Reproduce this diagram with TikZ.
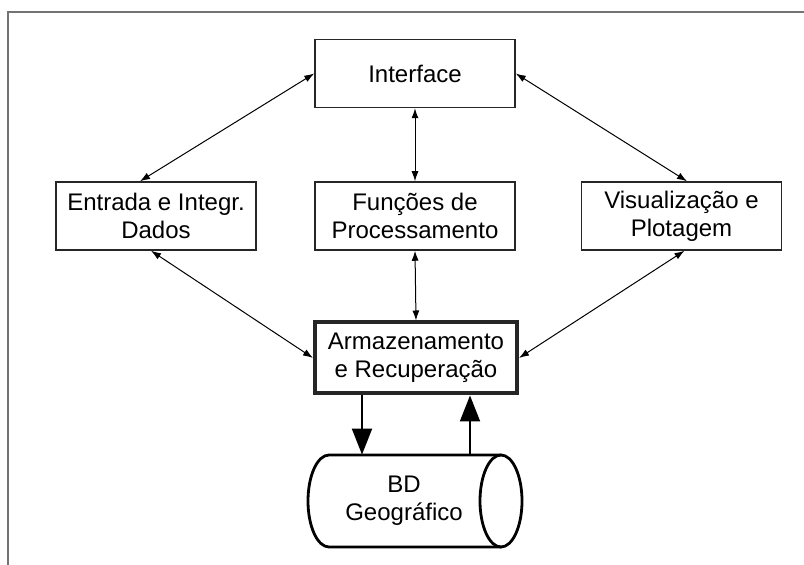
\documentclass[tikz,border=0pt]{standalone}
\usepackage{fontspec}
\setmainfont{Liberation Sans}
\usetikzlibrary{arrows.meta}
\tikzset{
  caixa/.style={draw=black!85,line width=0.75pt,minimum width=100pt,minimum height=34pt,
    align=center,inner sep=2pt,font=\fontsize{12}{14}\selectfont},
  caixagrossa/.style={caixa,line width=2pt,minimum width=101pt,minimum height=35.5pt},
  rotulo/.style={minimum height=46pt,align=center,inner sep=0pt,font=\fontsize{12}{14}\selectfont},
  fino/.style={{Latex[length=5pt,width=3.5pt]}-{Latex[length=5pt,width=3.5pt]},line width=0.5pt},
  grosso/.style={-{Triangle[length=13pt,width=10pt]},line width=1pt}
}
\begin{document}
\begin{tikzpicture}[x=0.5pt,y=-0.5pt]
  \pgfmathsetmacro{\desvio}{27}
  \pgfmathsetmacro{\cilesq}{329}
  \pgfmathsetmacro{\cildir}{501}
  \pgfmathsetmacro{\ciltopo}{455}
  \pgfmathsetmacro{\cilbase}{547}
  \useasboundingbox (0,0) rectangle (804,565);
  \draw[black!55,line width=0.7pt] (8,565) -- (8,12) -- (804,12);
  \node[caixa] (iface) at (415,73.5) {Interface};
  \node[caixa] (entrada) at (156,216) {Entrada e Integr.\\Dados};
  \node[caixa] (funcoes) at (415,216) {Funções de\\Processamento};
  \node[caixa] (visual) at (681.5,216) {Visualização e\\Plotagem};
  \node[caixagrossa] (armaz) at (416,358) {Armazenamento\\e Recuperação};
  \draw[line width=1.4pt] (\cildir,\ciltopo) -- (\cilesq,\ciltopo)
    arc[start angle=90,end angle=270,x radius=10.5pt,y radius=23pt] -- (\cildir,\cilbase);
  \draw[line width=1.4pt] (\cildir,501) ellipse[x radius=10.5pt,y radius=23pt];
  \node[rotulo] (bd) at (404,501) {BD\\Geográfico};
  \draw[fino] ([xshift=-8pt]entrada.north) -- (iface.west);
  \draw[fino] (iface.south) -- (funcoes.north);
  \draw[fino] ([xshift=2.75pt]visual.north) -- (iface.east);
  \draw[fino] ([xshift=-2.5pt]entrada.south) -- (armaz.west);
  \draw[fino] (funcoes.south) -- (armaz.north);
  \draw[fino] ([xshift=1.5pt]visual.south) -- (armaz.east);
  \draw[grosso] ([xshift=-\desvio pt]armaz.south) -- ([xshift=-\desvio pt]armaz.south |- bd.north);
  \draw[grosso] ([xshift=\desvio pt]armaz.south |- bd.north) -- ([xshift=\desvio pt]armaz.south);
\end{tikzpicture}
\end{document}
